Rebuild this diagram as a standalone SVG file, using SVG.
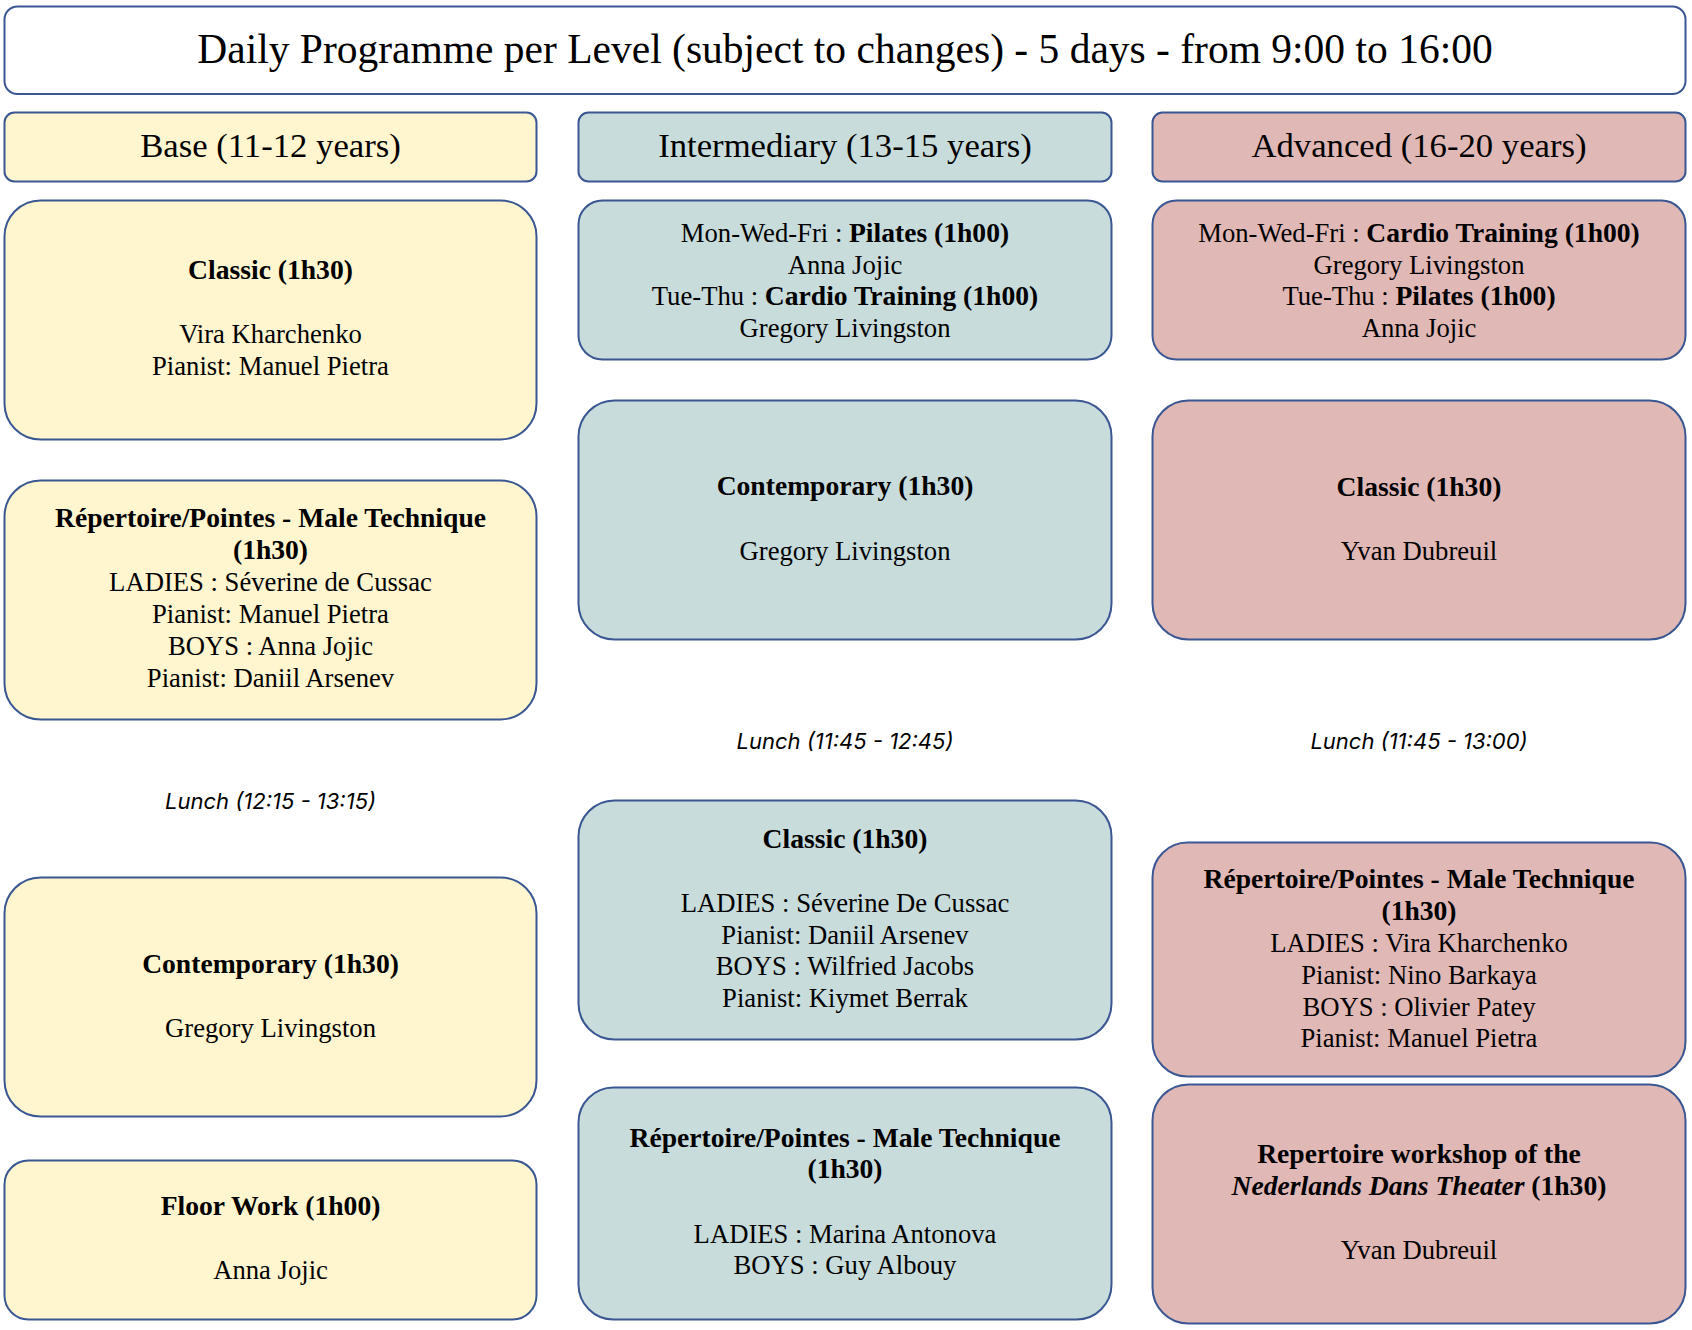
<svg xmlns="http://www.w3.org/2000/svg" width="1692" height="1330" viewBox="0 0 1692 1330">
<style>
.box{stroke:#3A5793;stroke-width:2}
.t{fill:#FFFFFF}
.y{fill:#FFF5CE}
.g{fill:#C9DCDC}
.p{fill:#E0B8B6}
text{font-family:"Liberation Serif","Times New Roman",serif;fill:#000;text-anchor:middle}
.title{font-size:41.5px}
.hdr{font-size:34.7px}
.body{font-size:26.67px}
.b{font-weight:bold;font-size:27.6px}
.n{font-weight:normal;font-size:26.67px}
.lunch{font-family:Inter,"Open Sans","Liberation Sans",sans-serif;font-style:italic;font-size:22px}
</style>
<rect width="1692" height="1330" fill="#FFFFFF"/>
<g id="title">
<rect class="box t" x="4.5" y="6.5" width="1681" height="87.5" rx="13"/>
<text class="title" x="845" y="63">Daily Programme per Level (subject to changes) - 5 days - from 9:00 to 16:00</text>
</g>
<g id="hdr-base">
<rect class="box y" x="4.5" y="112.5" width="532" height="69" rx="10"/>
<text class="hdr" x="270.5" y="157">Base (11-12 years)</text>
</g>
<g id="hdr-inter">
<rect class="box g" x="578.5" y="112.5" width="533" height="69" rx="10"/>
<text class="hdr" x="845" y="157">Intermediary (13-15 years)</text>
</g>
<g id="hdr-adv">
<rect class="box p" x="1152.5" y="112.5" width="533" height="69" rx="10"/>
<text class="hdr" x="1419" y="157">Advanced (16-20 years)</text>
</g>

<g id="base-classic">
<rect class="box y" x="4.5" y="200.5" width="532" height="239" rx="36"/>
<text class="body" x="270.5"><tspan class="b" x="270.5" y="279">Classic (1h30)</tspan><tspan x="270.5" y="343">Vira Kharchenko</tspan><tspan x="270.5" y="375">Pianist: Manuel Pietra</tspan></text>
</g>
<g id="base-repertoire">
<rect class="box y" x="4.5" y="480.5" width="532" height="239" rx="36"/>
<text class="body" x="270.5"><tspan class="b" x="270.5" y="527">Répertoire/Pointes - Male Technique</tspan><tspan class="b" x="270.5" y="559">(1h30)</tspan><tspan x="270.5" y="591">LADIES : Séverine de Cussac</tspan><tspan x="270.5" y="623">Pianist: Manuel Pietra</tspan><tspan x="270.5" y="655">BOYS : Anna Jojic</tspan><tspan x="270.5" y="687">Pianist: Daniil Arsenev</tspan></text>
</g>
<g id="base-lunch">
<text class="lunch" x="270.5" y="809">Lunch (12:15 - 13:15)</text>
</g>
<g id="base-contemporary">
<rect class="box y" x="4.5" y="877.5" width="532" height="239" rx="36"/>
<text class="body" x="270.5"><tspan class="b" x="270.5" y="973">Contemporary (1h30)</tspan><tspan x="270.5" y="1037">Gregory Livingston</tspan></text>
</g>
<g id="base-floorwork">
<rect class="box y" x="4.5" y="1160.5" width="532" height="159" rx="24"/>
<text class="body" x="270.5"><tspan class="b" x="270.5" y="1215">Floor Work (1h00)</tspan><tspan x="270.5" y="1279">Anna Jojic</tspan></text>
</g>

<g id="inter-pilates">
<rect class="box g" x="578.5" y="200.5" width="533" height="159" rx="24"/>
<text class="body" x="845"><tspan x="845" y="242">Mon-Wed-Fri : <tspan class="b">Pilates (1h00)</tspan></tspan><tspan x="845" y="273.5">Anna Jojic</tspan><tspan x="845" y="305">Tue-Thu : <tspan class="b">Cardio Training (1h00)</tspan></tspan><tspan x="845" y="336.5">Gregory Livingston</tspan></text>
</g>
<g id="inter-contemporary">
<rect class="box g" x="578.5" y="400.5" width="533" height="239" rx="36"/>
<text class="body" x="845"><tspan class="b" x="845" y="495">Contemporary (1h30)</tspan><tspan x="845" y="560">Gregory Livingston</tspan></text>
</g>
<g id="inter-lunch">
<text class="lunch" x="845" y="749">Lunch (11:45 - 12:45)</text>
</g>
<g id="inter-classic">
<rect class="box g" x="578.5" y="800.5" width="533" height="239" rx="36"/>
<text class="body" x="845"><tspan class="b" x="845" y="848">Classic (1h30)</tspan><tspan x="845" y="912">LADIES : Séverine De Cussac</tspan><tspan x="845" y="943.5">Pianist: Daniil Arsenev</tspan><tspan x="845" y="975">BOYS : Wilfried Jacobs</tspan><tspan x="845" y="1007">Pianist: Kiymet Berrak</tspan></text>
</g>
<g id="inter-repertoire">
<rect class="box g" x="578.5" y="1087.5" width="533" height="232" rx="35"/>
<text class="body" x="845"><tspan class="b" x="845" y="1147">Répertoire/Pointes - Male Technique</tspan><tspan class="b" x="845" y="1178">(1h30)</tspan><tspan x="845" y="1243">LADIES : Marina Antonova</tspan><tspan x="845" y="1274">BOYS : Guy Albouy</tspan></text>
</g>

<g id="adv-cardio">
<rect class="box p" x="1152.5" y="200.5" width="533" height="159" rx="24"/>
<text class="body" x="1419"><tspan x="1419" y="242">Mon-Wed-Fri : <tspan class="b">Cardio Training (1h00)</tspan></tspan><tspan x="1419" y="273.5">Gregory Livingston</tspan><tspan x="1419" y="305">Tue-Thu : <tspan class="b">Pilates (1h00)</tspan></tspan><tspan x="1419" y="336.5">Anna Jojic</tspan></text>
</g>
<g id="adv-classic">
<rect class="box p" x="1152.5" y="400.5" width="533" height="239" rx="36"/>
<text class="body" x="1419"><tspan class="b" x="1419" y="496">Classic (1h30)</tspan><tspan x="1419" y="560">Yvan Dubreuil</tspan></text>
</g>
<g id="adv-lunch">
<text class="lunch" x="1419" y="749">Lunch (11:45 - 13:00)</text>
</g>
<g id="adv-repertoire">
<rect class="box p" x="1152.5" y="842.5" width="533" height="234" rx="35"/>
<text class="body" x="1419"><tspan class="b" x="1419" y="888">Répertoire/Pointes - Male Technique</tspan><tspan class="b" x="1419" y="920">(1h30)</tspan><tspan x="1419" y="952">LADIES : Vira Kharchenko</tspan><tspan x="1419" y="984">Pianist: Nino Barkaya</tspan><tspan x="1419" y="1016">BOYS : Olivier Patey</tspan><tspan x="1419" y="1047">Pianist: Manuel Pietra</tspan></text>
</g>
<g id="adv-workshop">
<rect class="box p" x="1152.5" y="1084.5" width="533" height="239" rx="36"/>
<text class="body b" x="1419"><tspan x="1419" y="1163">Repertoire workshop of the</tspan><tspan x="1419" y="1195"><tspan font-style="italic">Nederlands Dans Theater</tspan> (1h30)</tspan><tspan class="n" x="1419" y="1259">Yvan Dubreuil</tspan></text>
</g>
<g id="connectors"/>
</svg>
